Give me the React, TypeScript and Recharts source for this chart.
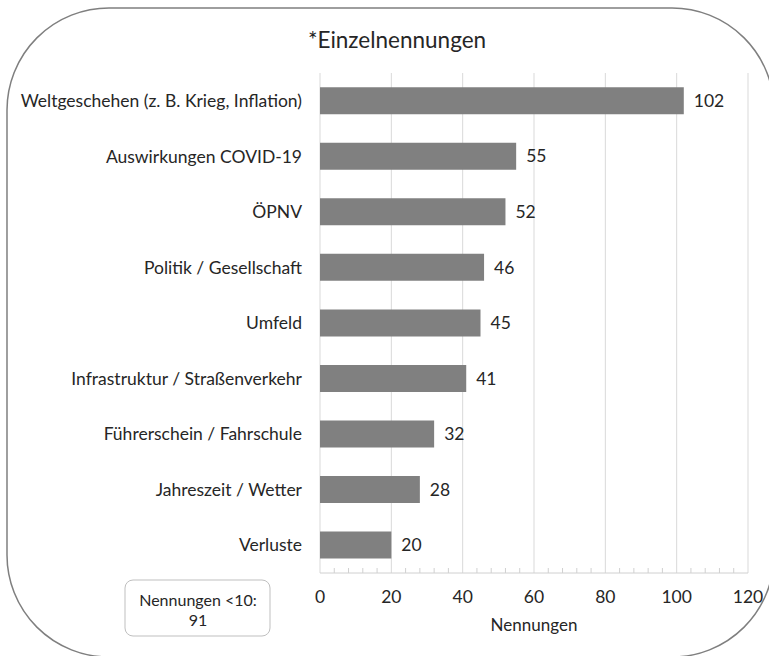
import React from 'react';
import { BarChart, Bar, XAxis, YAxis, CartesianGrid, LabelList } from 'recharts';

const categories: string[] = [
  'Weltgeschehen (z. B. Krieg, Inflation)',
  'Auswirkungen COVID-19',
  'ÖPNV',
  'Politik / Gesellschaft',
  'Umfeld',
  'Infrastruktur / Straßenverkehr',
  'Führerschein / Fahrschule',
  'Jahreszeit / Wetter',
  'Verluste',
];
const values: number[] = [102, 55, 52, 46, 45, 41, 32, 28, 20];
const majorTicks: number[] = [0, 20, 40, 60, 80, 100, 120];
const minorTicks: number[] = [
  0, 4, 8, 12, 16, 20, 24, 28, 32, 36, 40, 44, 48, 52, 56, 60, 64, 68, 72, 76, 80, 84, 88, 92, 96, 100,
  104, 108, 112, 116, 120,
];
const title = '*Einzelnennungen';
const axisTitle = 'Nennungen';
const noteLines: string[] = ['Nennungen <10:', '91'];

const data = categories.map((name, i) => ({ name, value: values[i] }));

const FONT = 'Lato, "Open Sans", sans-serif';
const TEXT = '#262626';

const XTick = (props: any) => {
  const { x, y, payload } = props;
  const isMajor = payload.value % 20 === 0;
  return (
    <g>
      {!isMajor && <line x1={x} x2={x} y1={y} y2={y - 5} stroke="#d0d0d0" strokeWidth={1} />}
      {isMajor && (
        <text x={x} y={y + 30} textAnchor="middle" fill={TEXT} fontSize={17.5} fontFamily={FONT}>
          {payload.value}
        </text>
      )}
    </g>
  );
};

export default function App() {
  return (
    <div style={{ position: 'absolute', left: 0, top: 0, width: 769, height: 656, overflow: 'hidden', background: '#fff' }}>
      <svg width={769} height={656} style={{ position: 'absolute', left: 0, top: 0 }}>
        <rect x={7} y={8} width={767} height={649} rx={102} ry={102} fill="none" stroke="#7f7f7f" strokeWidth={1.5} />
        <text x={397} y={48} textAnchor="middle" fontSize={22.5} fill={TEXT} fontFamily={FONT}>
          {title}
        </text>
        <rect x={125} y={580} width={145} height={56} rx={8} ry={8} fill="#fff" stroke="#bfbfbf" strokeWidth={1} />
        {noteLines.map((t, i) => (
          <text key={i} x={198} y={606 + i * 20} textAnchor="middle" fontSize={16} fill={TEXT} fontFamily={FONT}>
            {t}
          </text>
        ))}
      </svg>
      <div style={{ position: 'absolute', left: 0, top: 0 }}>
        <BarChart
          width={769}
          height={656}
          data={data}
          layout="vertical"
          margin={{ top: 73, right: 21, bottom: 23, left: 0 }}
          barCategoryGap="25.5%"
        >
          <CartesianGrid horizontal={false} vertical={true} verticalValues={majorTicks} stroke="#d9d9d9" strokeWidth={1} />
          <XAxis
            type="number"
            domain={[0, 120]}
            ticks={minorTicks}
            interval={0}
            tickLine={false}
            tickSize={0}
            tickMargin={0}
            axisLine={{ stroke: '#d0d0d0' }}
            tick={<XTick />}
            height={60}
            label={{ value: axisTitle, position: 'insideBottom', offset: 2, fill: TEXT, fontSize: 17, fontFamily: FONT }}
          />
          <YAxis
            type="category"
            dataKey="name"
            width={320}
            axisLine={false}
            tickLine={false}
            tickMargin={12}
            interval={0}
            tick={{ fill: TEXT, fontSize: 17.5, fontFamily: FONT }}
          />
          <Bar dataKey="value" fill="#808080" isAnimationActive={false}>
            <LabelList dataKey="value" position="right" offset={10} fill={TEXT} fontSize={17.5} fontFamily={FONT} />
          </Bar>
        </BarChart>
      </div>
    </div>
  );
}
